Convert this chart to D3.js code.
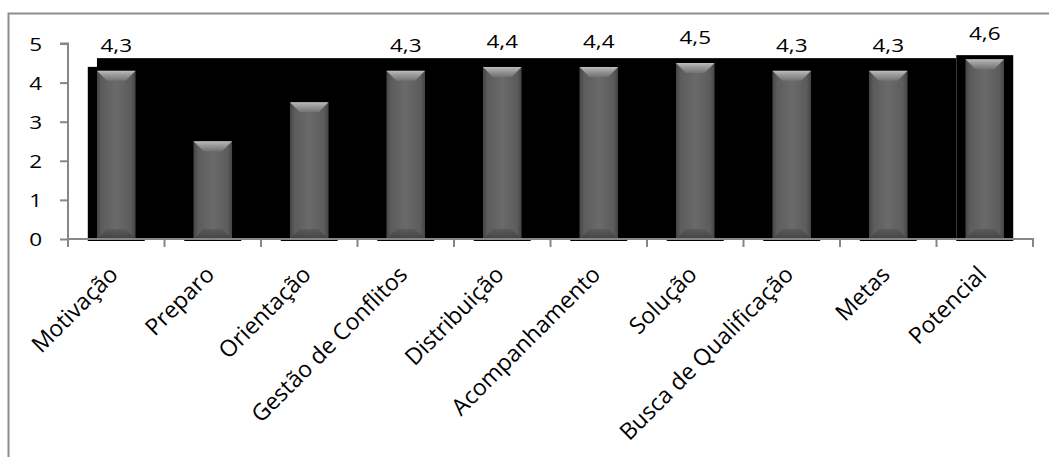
<!DOCTYPE html>
<html>
<head>
<meta charset="utf-8">
<script src="https://cdn.jsdelivr.net/npm/d3@7"></script>
<style>
  html, body { margin: 0; padding: 0; background: #fff; }
  svg { display: block; }
  text { font-family: "Open Sans", sans-serif; fill: #000; }
</style>
</head>
<body>
<svg id="chart" width="1049" height="457"></svg>
<script>
// Average score per competency
const categories = ["Motivação", "Preparo", "Orientação", "Gestão de Conflitos", "Distribuição",
  "Acompanhamento", "Solução", "Busca de Qualificação", "Metas", "Potencial"];
const values = [4.3, 2.5, 3.5, 4.3, 4.4, 4.4, 4.5, 4.3, 4.3, 4.6];
const yTicks = [0, 1, 2, 3, 4, 5];

const svg = d3.select("#chart");
const W = 1049, H = 457;
const plotLeft = 68, plotRight = 1033, plotTop = 43.5, plotBottom = 239;
const axisColor = "#878787";
const numStretch = 1.25;   // wide numerals

// chart frame
svg.append("rect")
  .attr("x", 8.5).attr("y", 13.5)
  .attr("width", W + 20).attr("height", H + 20)
  .attr("fill", "#fff").attr("stroke", "#8e8e8e").attr("stroke-width", 2);

const x = d3.scaleBand().domain(categories).range([plotLeft, plotRight]).padding(0);
const y = d3.scaleLinear().domain([0, 5]).range([plotBottom, plotTop]);

const bw = x.bandwidth() * 0.4;       // bar width
const sw = x.bandwidth() * 0.59;      // dark halo width
const cx = d => x(d) + x.bandwidth() / 2;

const defs = svg.append("defs");
const body = defs.append("linearGradient").attr("id", "barBody").attr("x1", 0).attr("x2", 1).attr("y1", 0).attr("y2", 0);
[[0, "#444444"], [0.12, "#5c5c5c"], [0.5, "#6a6a6a"], [0.88, "#5c5c5c"], [1, "#444444"]]
  .forEach(([o, c]) => body.append("stop").attr("offset", o).attr("stop-color", c));
const topBevel = defs.append("linearGradient").attr("id", "barTop").attr("x1", 0).attr("x2", 0).attr("y1", 0).attr("y2", 1);
[[0, "#bdbdbd"], [0.3, "#a2a2a2"], [1, "#727272"]]
  .forEach(([o, c]) => topBevel.append("stop").attr("offset", o).attr("stop-color", c));
const botBevel = defs.append("linearGradient").attr("id", "barBot").attr("x1", 0).attr("x2", 0).attr("y1", 0).attr("y2", 1);
[[0, "#585858"], [1, "#3c3c3c"]]
  .forEach(([o, c]) => botBevel.append("stop").attr("offset", o).attr("stop-color", c));

// black backdrop behind the bars
const first = categories[0], last = categories[categories.length - 1];
svg.append("rect")
  .attr("x", cx(first) - bw / 2)
  .attr("y", y(d3.max(values)) - 1)
  .attr("width", (cx(last) - sw / 2) - (cx(first) - bw / 2))
  .attr("height", y(0) - y(d3.max(values)) + 1)
  .attr("fill", "#000");

// dark halo around each bar
svg.append("g").selectAll("rect").data(categories).join("rect")
  .attr("x", d => cx(d) - sw / 2)
  .attr("y", (d, i) => y(values[i]) - 4)
  .attr("width", sw)
  .attr("height", (d, i) => y(0) - y(values[i]) + 6)
  .attr("fill", "#000");

// bars with bevel
const bars = svg.append("g").selectAll("g").data(categories).join("g");
bars.append("rect")
  .attr("x", d => cx(d) - bw / 2)
  .attr("y", (d, i) => y(values[i]))
  .attr("width", bw)
  .attr("height", (d, i) => y(0) - y(values[i]))
  .attr("fill", "url(#barBody)");
const bev = 10;
bars.append("path")
  .attr("d", (d, i) => {
    const x0 = cx(d) - bw / 2, x1 = cx(d) + bw / 2, t = y(values[i]);
    return `M${x0},${t}L${x1},${t}L${x1 - bev},${t + bev}L${x0 + bev},${t + bev}Z`;
  })
  .attr("fill", "url(#barTop)");
bars.append("path")
  .attr("d", (d, i) => {
    const x0 = cx(d) - bw / 2, x1 = cx(d) + bw / 2, b = y(0);
    return `M${x0},${b}L${x1},${b}L${x1 - bev},${b - bev}L${x0 + bev},${b - bev}Z`;
  })
  .attr("fill", "url(#barBot)").attr("opacity", 0.8);

// value labels
svg.append("g").selectAll("text").data(categories).join("text")
  .attr("transform", (d, i) => `translate(${cx(d)},${y(values[i]) - 19}) scale(${numStretch},1)`)
  .attr("text-anchor", "middle")
  .attr("font-size", 18)
  .text((d, i) => d3.format(".1f")(values[i]).replace(".", ","));

// y axis
const yAxis = svg.append("g").attr("transform", `translate(${plotLeft},0)`)
  .call(d3.axisLeft(y).tickValues(yTicks).tickSize(8).tickFormat(d3.format("d")));
yAxis.select(".domain").attr("d", `M-8,${y(5)}H0V${y(0) + 8}`);
yAxis.selectAll(".tick text")
  .attr("x", null).attr("dy", null)
  .attr("transform", `translate(-26,6.5) scale(${numStretch},1)`)
  .attr("font-size", 18).attr("font-family", "Open Sans").attr("fill", "#000");

// x axis: ticks at category boundaries
const xAxis = svg.append("g").attr("transform", `translate(0,${plotBottom})`);
xAxis.append("path").attr("class", "domain").attr("d", `M${plotLeft},0H${plotRight}V8`);
xAxis.selectAll("line").data(categories.slice(1)).join("line")
  .attr("x1", d => x(d)).attr("x2", d => x(d)).attr("y1", 0).attr("y2", 8);

svg.selectAll(".domain, line").attr("stroke", axisColor).attr("stroke-width", 2).attr("fill", "none");

// rotated category labels
svg.append("g").selectAll("text").data(categories).join("text")
  .attr("transform", d => `translate(${cx(d) + 3},${plotBottom + 37}) rotate(-45)`)
  .attr("text-anchor", "end")
  .attr("font-size", 23)
  .text(d => d);
</script>
</body>
</html>
